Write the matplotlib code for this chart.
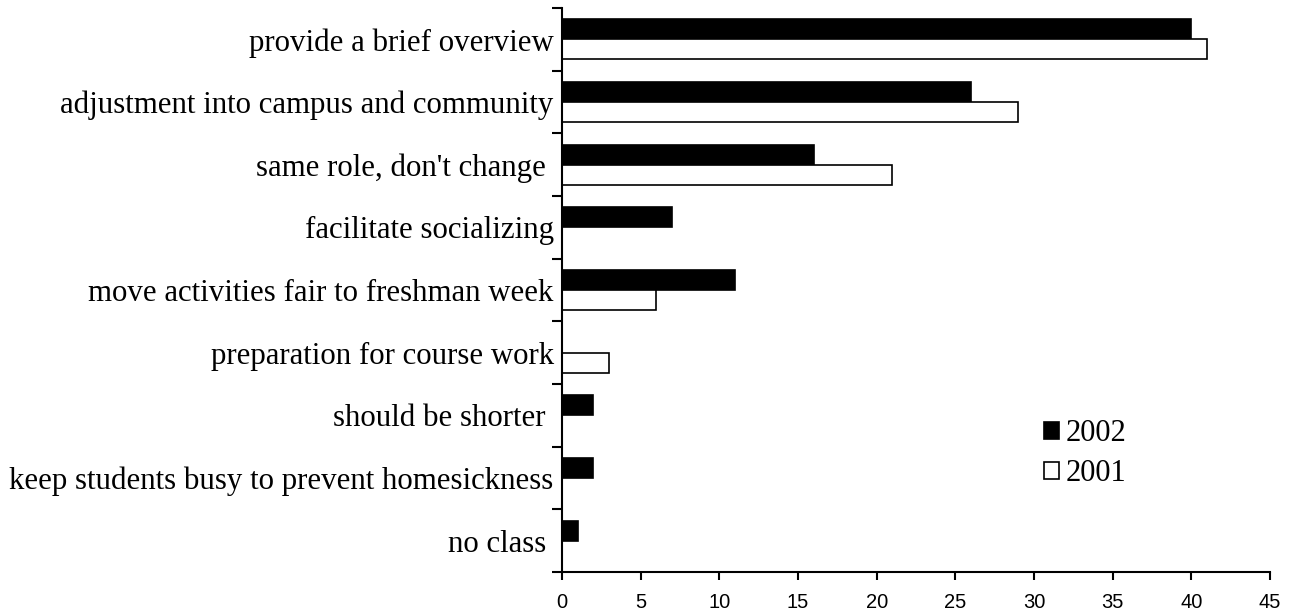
import matplotlib
matplotlib.use("Agg")
import matplotlib.pyplot as plt
from matplotlib.patches import Rectangle
import numpy as np

# Survey answers, top to bottom as they appear on the chart
categories = [
    "provide a brief overview",
    "adjustment into campus and community",
    "same role, don't change ",
    "facilitate socializing",
    "move activities fair to freshman week",
    "preparation for course work",
    "should be shorter ",
    "keep students busy to prevent homesickness",
    "no class ",
]
values_2002 = [40, 26, 16, 7, 11, 0, 2, 2, 1]
values_2001 = [41, 29, 21, 0, 6, 3, 0, 0, 0]
x_ticks = [0, 5, 10, 15, 20, 25, 30, 35, 40, 45]


def main():
    fig = plt.figure(figsize=(12.97, 6.16), dpi=100)
    ax = fig.add_axes([0.4333, 0.0714, 0.9792 - 0.4333, 0.987 - 0.0714])

    y = np.arange(len(categories))
    h = 0.32
    ax.barh(y - h / 2, values_2002, height=h, color="black",
            edgecolor="black", linewidth=1.2)
    ax.barh(y + h / 2, values_2001, height=h, color="white",
            edgecolor="black", linewidth=1.2)

    ax.set_xlim(0, 45)
    ax.set_ylim(len(categories) - 0.5, -0.5)

    # ticks on the category boundaries, labels in the middle
    ax.set_yticks(np.arange(len(categories) + 1) - 0.5)
    ax.set_yticklabels([])
    ax.set_yticks(y, minor=True)
    ax.set_yticklabels(categories, minor=True, family="Liberation Serif",
                       fontsize=22.2)
    ax.tick_params(axis="y", which="minor", length=0, pad=6)
    ax.tick_params(axis="y", which="major", direction="out", length=7,
                   width=1.5)

    ax.set_xticks(x_ticks)
    ax.set_xticklabels([str(t) for t in x_ticks], family="Liberation Sans",
                       fontsize=14.5)
    ax.tick_params(axis="x", direction="out", length=6, width=1.5, pad=9)

    for side in ["top", "right"]:
        ax.spines[side].set_visible(False)
    for side in ["left", "bottom"]:
        ax.spines[side].set_linewidth(1.5)

    handles = [
        Rectangle((0, 0), 1, 1, facecolor="black", edgecolor="black", linewidth=1.2),
        Rectangle((0, 0), 1, 1, facecolor="white", edgecolor="black", linewidth=1.2),
    ]
    fig.legend(handles, ["2002", "2001"], loc="center left",
               bbox_to_anchor=(0.793, 0.263), bbox_transform=fig.transFigure,
               frameon=False, borderpad=0, handlelength=0.5, handleheight=0.5,
               handletextpad=0.2, labelspacing=0.36,
               prop={"family": "Liberation Serif", "size": 22})

    fig.savefig("out.png", dpi=100)


if __name__ == "__main__":
    main()
